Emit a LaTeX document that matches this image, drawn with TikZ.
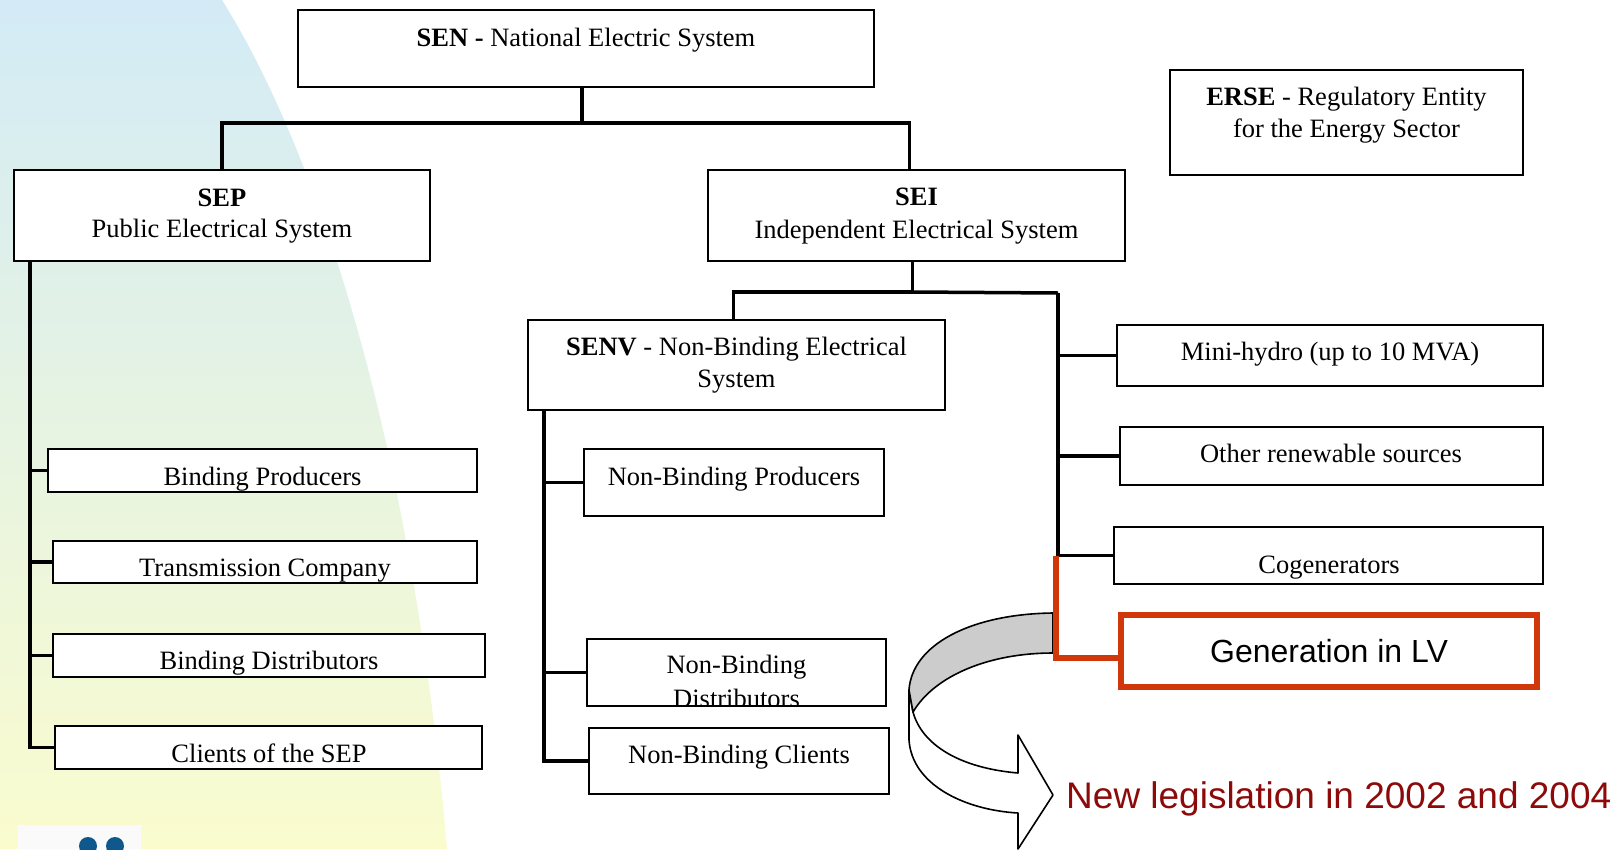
\documentclass[tikz,border=0pt]{standalone}
\usepackage{fontspec}
\setmainfont{Liberation Serif}
\newfontfamily\sansf{Liberation Sans}
\definecolor{bgtop}{RGB}{211,235,246}
\definecolor{bgmid}{RGB}{226,242,232}
\definecolor{bgbot}{RGB}{250,252,206}
\definecolor{redl}{RGB}{208,55,10}
\definecolor{legis}{RGB}{140,10,10}
\definecolor{logoblue}{RGB}{14,88,140}
\definecolor{band}{RGB}{204,204,204}
\tikzset{
  box/.style={draw=black, fill=white, line width=2pt, inner sep=0pt, outer sep=0pt, rectangle},
  redbox/.style={draw=redl, fill=white, line width=6pt, inner sep=0pt, outer sep=0pt, rectangle},
  txt/.style={anchor=base, inner sep=0pt, font=\fontsize{26.5}{32}\selectfont},
  conn/.style={line width=3.5pt, draw=black},
  redconn/.style={line width=6pt, draw=redl},
  arrowpart/.style={draw=black, line width=1.6pt, line join=round}
}
\begin{document}
\begin{tikzpicture}[x=1pt, y=-1pt]
\useasboundingbox (0,0) rectangle (1619,849);
% background
\shade[top color=bgtop, middle color=bgmid, bottom color=bgbot]
  (0,0) -- (222,0) .. controls (310,140) and (410,420) .. (447,849) -- (0,849) -- cycle;
% logo
\fill[white!96!gray] (18,825) rectangle (141,849);
\fill[logoblue] (88,846) circle (9pt);
\fill[logoblue] (115,846) circle (9pt);

% boxes
\node[box, minimum width=576pt, minimum height=77pt] (sen) at (586,48.5) {};
\node[box, minimum width=353pt, minimum height=105pt] (erse) at (1346.5,122.5) {};
\node[box, minimum width=416pt, minimum height=91pt] (sep) at (222,215.5) {};
\node[box, minimum width=417pt, minimum height=91pt] (sei) at (916.5,215.5) {};
\node[box, minimum width=417pt, minimum height=90pt] (senv) at (736.5,365) {};
\node[box, minimum width=429pt, minimum height=43pt] (bp) at (262.5,470.5) {};
\node[box, minimum width=424pt, minimum height=42pt] (tc) at (265,562) {};
\node[box, minimum width=432pt, minimum height=43pt] (bd) at (269,655.5) {};
\node[box, minimum width=427pt, minimum height=43pt] (cs) at (268.5,747.5) {};
\node[box, minimum width=300pt, minimum height=67pt] (nbp) at (734,482.5) {};
\node[box, minimum width=299pt, minimum height=67pt] (nbd) at (736.5,672.5) {};
\node[box, minimum width=300pt, minimum height=66pt] (nbc) at (739,761) {};
\node[box, minimum width=426pt, minimum height=61pt] (mh) at (1330,355.5) {};
\node[box, minimum width=423pt, minimum height=58pt] (ors) at (1331.5,456) {};
\node[box, minimum width=429pt, minimum height=57pt] (cog) at (1328.5,555.5) {};
\node[redbox, minimum width=416pt, minimum height=72pt] (gen) at (1329,651) {};

% texts
\node[txt] (sen-t) at (586,46) {\textbf{SEN -} National Electric System};
\node[txt] (erse-t1) at (1346.5,105) {\textbf{ERSE} - Regulatory Entity};
\node[txt] (erse-t2) at (1346.5,137) {for the Energy Sector};
\node[txt] (sep-t1) at (222,206) {\textbf{SEP}};
\node[txt] (sep-t2) at (222,237) {Public Electrical System};
\node[txt] (sei-t1) at (916.5,205) {\textbf{SEI}};
\node[txt] (sei-t2) at (916.5,238) {Independent Electrical System};
\node[txt] (senv-t1) at (736.5,355) {\textbf{SENV} - Non-Binding Electrical};
\node[txt] (senv-t2) at (736.5,387) {System};
\node[txt] (bp-t) at (262.5,485) {Binding Producers};
\node[txt] (tc-t) at (265,576) {Transmission Company};
\node[txt] (bd-t) at (269,669) {Binding Distributors};
\node[txt] (cs-t) at (269,762) {Clients of the SEP};
\node[txt] (nbp-t) at (734,485) {Non-Binding Producers};
\node[txt] (nbd-t1) at (736.5,673) {Non-Binding};
\begin{scope}
  \clip (nbd.south west) rectangle (nbd.north east);
  \node[txt] (nbd-t2) at (736.5,707) {Distributors};
\end{scope}
\node[txt] (nbc-t) at (739,763) {Non-Binding Clients};
\node[txt] (mh-t) at (1330,360) {Mini-hydro (up to 10 MVA)};
\node[txt] (ors-t) at (1331,462) {Other renewable sources};
\node[txt] (cog-t) at (1329,573) {Cogenerators};
\node[anchor=base, inner sep=0pt, font=\sansf\fontsize{32}{36}\selectfont] (gen-t) at (1329,662) {Generation in LV};
\node[anchor=base west, inner sep=0pt, font=\sansf\fontsize{37}{42}\selectfont, text=legis] (leg) at (1066,808) {New legislation in 2002 and 2004};

% connectors
\draw[conn] ([xshift=-4pt]sen.south) -- ++(0,36) coordinate (sj);
\draw[conn] (sep.north) |- (sj);
\draw[conn] (sj) -| ([xshift=-7pt]sei.north);
\draw[conn] ([xshift=16pt]sep.south west) |- (bp.west);
\draw[conn] ([xshift=16pt]sep.south west) |- (tc.west);
\draw[conn] ([xshift=16pt]sep.south west) |- (bd.west);
\draw[conn] ([xshift=16pt]sep.south west) |- (cs.west);
\draw[conn] ([xshift=-4pt]sei.south) -- ++(0,31) coordinate (fk);
\draw[conn] (fk) -| ([xshift=-3pt]senv.north);
\coordinate (rtop) at (1058,293);
\draw[conn] (fk) -- (rtop);
\draw[conn] (rtop) |- (mh.west);
\draw[conn] (rtop) |- (ors.west);
\draw[conn] (rtop) |- (cog.west);
\draw[conn] ([xshift=16pt]senv.south west) |- (nbp.west);
\draw[conn] ([xshift=16pt]senv.south west) |- (nbd.west);
\draw[conn] ([xshift=16pt]senv.south west) |- (nbc.west);

% curved arrow
\draw[arrowpart, fill=white] (909,690) -- (909,740)
  .. controls (912,785) and (965,810) .. (1018,813) -- (1018,849) -- (1053,795) -- (1018,735) -- (1018,773)
  .. controls (960,768) and (922,745) .. (913,712) -- cycle;
\draw[arrowpart, fill=band] (1053,613) .. controls (970,614) and (912,645) .. (909,690) -- (913,712)
  .. controls (935,675) and (990,653) .. (1053,653) -- cycle;

% red connector
\draw[redconn] ([xshift=-2pt]rtop |- cog.west) |- ([yshift=-7pt]gen.west);
\end{tikzpicture}
\end{document}
